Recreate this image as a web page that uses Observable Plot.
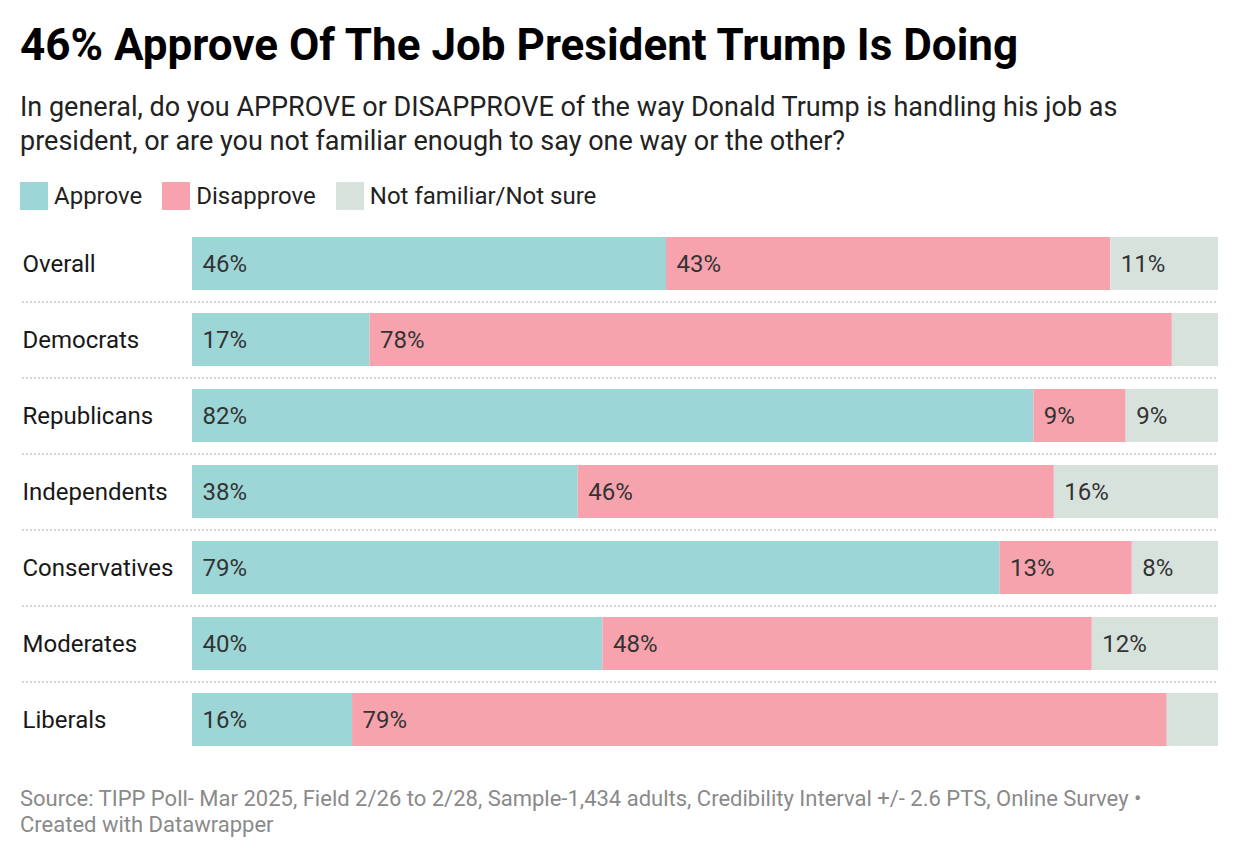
<!DOCTYPE html>
<html>
<head>
<meta charset="utf-8">
<script src="https://cdn.jsdelivr.net/npm/d3@7"></script>
<script src="https://cdn.jsdelivr.net/npm/@observablehq/plot@0.6"></script>
<style>
  html, body { margin: 0; padding: 0; background: #fff; }
  body { width: 1240px; height: 860px; position: relative; font-family: Roboto, "Noto Sans", sans-serif; color: #181818; }
  .title { position: absolute; left: 20px; top: 20px; font-size: 44px; line-height: 50px; font-weight: 700; color: #000; white-space: nowrap; }
  .subtitle { position: absolute; left: 20px; top: 90px; width: 1200px; font-size: 27px; line-height: 34px; color: #222; }
  .legend { position: absolute; left: 20px; top: 182px; display: flex; font-size: 24px; line-height: 28px; color: #222; }
  .legend .item { display: flex; align-items: center; margin-right: 20px; }
  .legend .sw { width: 28px; height: 28px; margin-right: 6px; }
  #chart { position: absolute; left: 0; top: 214px; }
  .footer { position: absolute; left: 20px; top: 786px; width: 1210px; font-size: 22px; line-height: 26px; color: #8a8a8a; }
</style>
</head>
<body>
<div class="title">46% Approve Of The Job President Trump Is Doing</div>
<div class="subtitle">In general, do you APPROVE or DISAPPROVE of the way Donald Trump is handling his job as president, or are you not familiar enough to say one way or the other?</div>
<div class="legend" id="legend"></div>
<div id="chart"></div>
<div class="footer">Source: TIPP Poll- Mar 2025, Field 2/26 to 2/28, Sample-1,434 adults, Credibility Interval +/- 2.6 PTS, Online Survey •<br>Created with Datawrapper</div>
<script>
const groups = ["Overall", "Democrats", "Republicans", "Independents", "Conservatives", "Moderates", "Liberals"];
const responses = ["Approve", "Disapprove", "Not familiar/Not sure"];
const approve =    [46.2, 17.3, 82.0, 37.6, 78.7, 40.0, 15.6];
const disapprove = [43.3, 78.2,  9.0, 46.4, 12.9, 47.7, 79.4];
const notSure =    [10.5,  4.5,  9.0, 16.0,  8.4, 12.3,  5.0];
const colors = ["#9dd6d7", "#f7a3ae", "#d8e2dd"];

const series = [approve, disapprove, notSure];
const data = [];
groups.forEach((g, i) => {
  responses.forEach((r, j) => data.push({group: g, response: r, value: series[j][i]}));
});

// legend
const legend = document.getElementById("legend");
responses.forEach((r, j) => {
  const item = document.createElement("div");
  item.className = "item";
  item.innerHTML = `<span class="sw" style="background:${colors[j]}"></span><span>${r}</span>`;
  legend.appendChild(item);
});

const chart = Plot.plot({
  width: 1240,
  height: 555,
  marginLeft: 192,
  marginRight: 22,
  marginTop: 0,
  marginBottom: 0,
  style: {fontFamily: "Roboto, 'Noto Sans', sans-serif", fontSize: "24px", color: "#181818", background: "#fff"},
  x: {domain: [0, 100], axis: null},
  y: {domain: groups, padding: 0.3, label: null},
  color: {domain: responses, range: colors},
  marks: [
    Plot.ruleY(groups.slice(0, -1), {y: d => d, dy: 38, stroke: "#d4d4d4", strokeWidth: 2, strokeDasharray: "2,2", insetLeft: -170}),
    Plot.barX(data, Plot.stackX({x: "value", y: "group", fill: "response", order: responses})),
    Plot.text(data, Plot.stackX1({
      x: "value", y: "group", z: "response", order: responses,
      text: d => d.value >= 6 ? Math.round(d.value) + "%" : "",
      textAnchor: "start", dx: 10, fill: "#333", fontSize: 24
    })),
    Plot.axisY({tickSize: 0, tickPadding: 0, textAnchor: "start", dx: -170, fontSize: 24, fill: "#181818", label: null})
  ]
});
document.getElementById("chart").appendChild(chart);
</script>
</body>
</html>
